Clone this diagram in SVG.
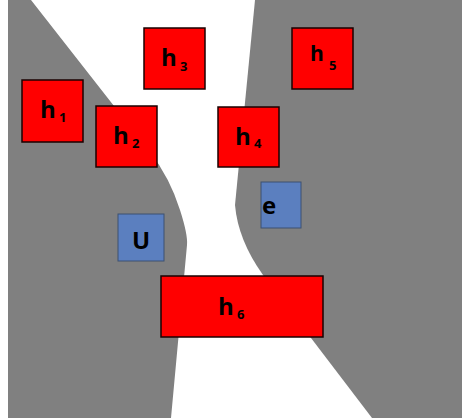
<svg xmlns="http://www.w3.org/2000/svg" width="464" height="420" viewBox="0 0 464 420">
<style>
.bg{fill:#808080;stroke:none}
.red{fill:#ff0000;stroke:#1a0000;stroke-width:1.5}
.blue{fill:#5b7fbf;stroke:#3c5170;stroke-width:1}
.t{font-family:"Open Sans","Liberation Sans",Arial,sans-serif;font-weight:bold;font-size:24px;fill:#000}
.s{font-family:"Open Sans","Liberation Sans",Arial,sans-serif;font-weight:bold;font-size:13px;fill:#000}
</style>
<rect x="0" y="0" width="464" height="420" fill="#fff"/>
<path class="bg" d="M8,0 L31,0 L150,152 Q170,178 180,210 Q188,235 187,245 L171,418 L8,418 Z"/>
<path class="bg" d="M255,0 L462,0 L462,418 L372,418 L263,275 Q238,240 235,205 Z"/>
<g id="connectors"></g>
<g id="h1"><rect class="red" x="22" y="80" width="61" height="62"/><text class="t" x="40" y="118">h</text><text class="s" x="59" y="122">1</text></g>
<g id="h2"><rect class="red" x="96" y="106" width="61" height="61"/><text class="t" x="113" y="144">h</text><text class="s" x="132" y="148">2</text></g>
<g id="h3"><rect class="red" x="144" y="28" width="61" height="61"/><text class="t" x="161" y="66">h</text><text class="s" x="180" y="71">3</text></g>
<g id="h4"><rect class="red" x="218" y="107" width="61" height="60"/><text class="t" x="235" y="145">h</text><text class="s" x="254" y="148">4</text></g>
<g id="h5"><rect class="red" x="292" y="28" width="61" height="61"/><text class="t" x="310" y="61" style="font-size:21px">h</text><text class="s" x="329" y="70">5</text></g>
<g id="h6"><rect class="red" x="161" y="276" width="162" height="61"/><text class="t" x="218" y="315">h</text><text class="s" x="237" y="319">6</text></g>
<g id="U"><rect class="blue" x="118" y="214" width="46" height="47"/><text class="t" x="132" y="249">U</text></g>
<g id="e"><rect class="blue" x="261" y="182" width="40" height="46"/><text class="t" x="262" y="214">e</text></g>
</svg>
